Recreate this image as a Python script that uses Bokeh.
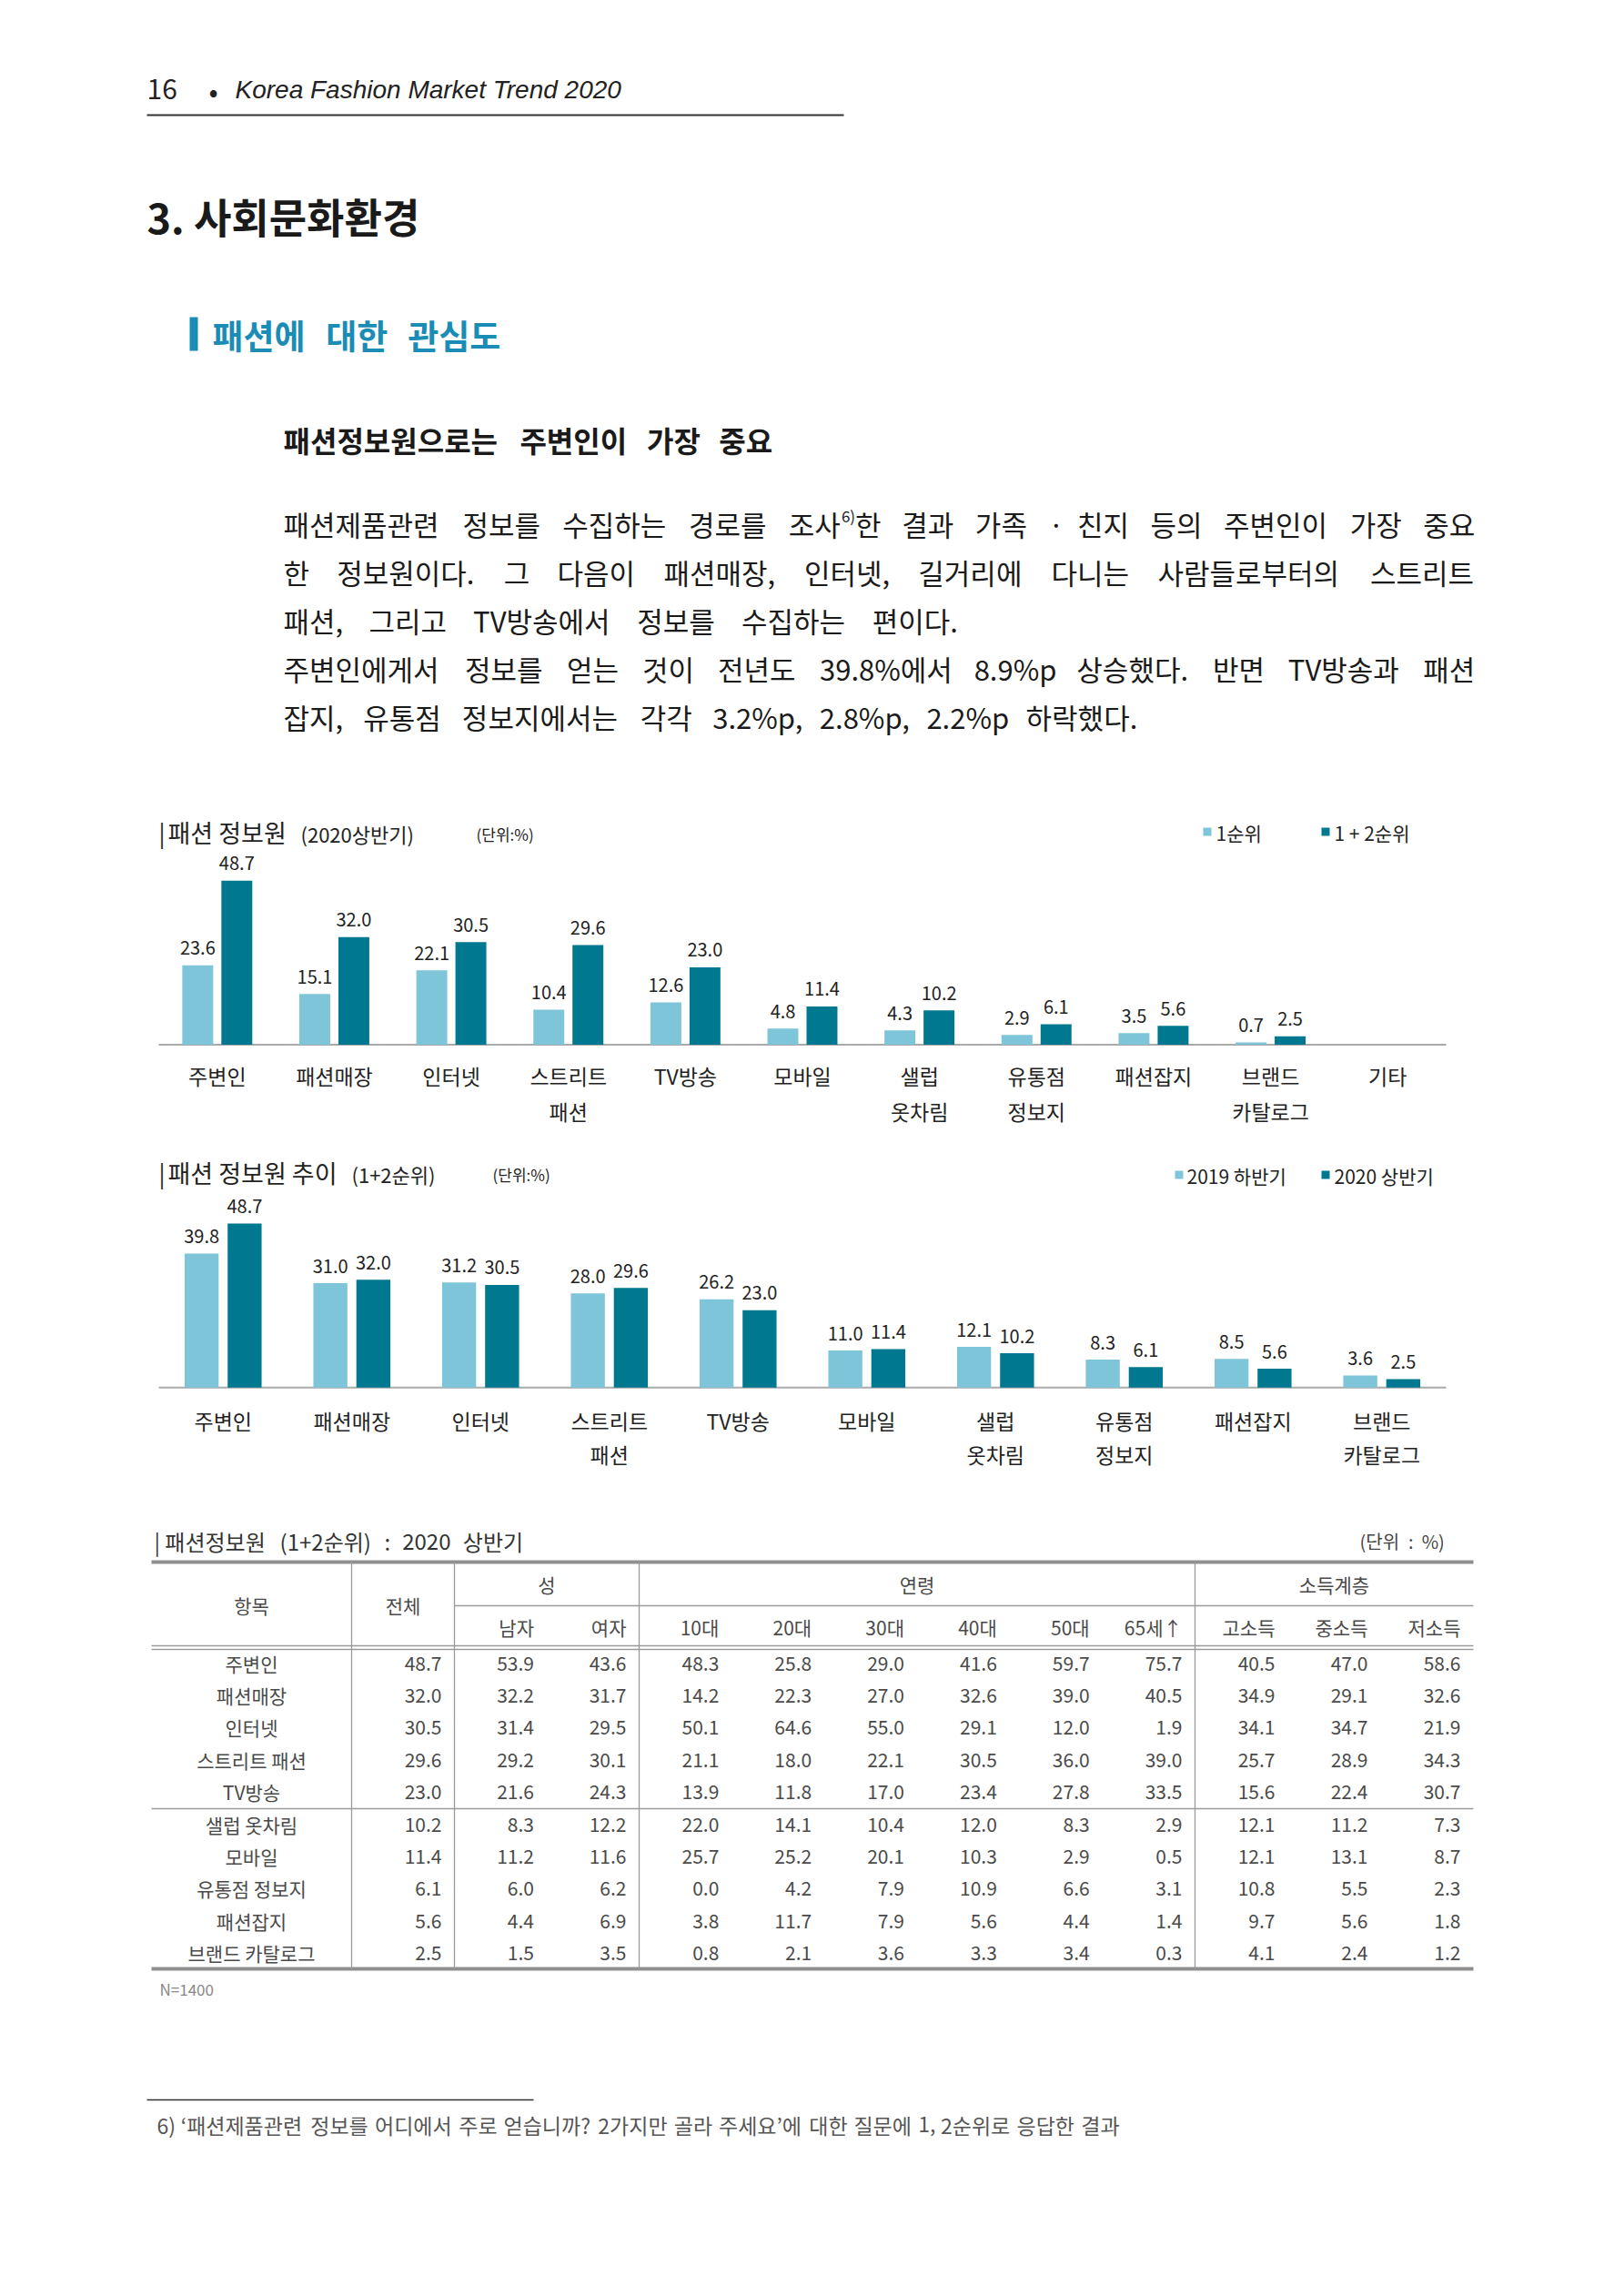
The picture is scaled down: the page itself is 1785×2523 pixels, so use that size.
from bokeh.plotting import figure
from bokeh.models import Range1d
from bokeh.core.properties import value
from bokeh.embed import file_html
from bokeh.resources import INLINE

# ---------------- data ----------------
c1_categories = ["주변인", "패션매장", "인터넷", "스트리트\n패션", "TV방송", "모바일",
                 "샐럽\n옷차림", "유통점\n정보지", "패션잡지", "브랜드\n카탈로그", "기타"]
c1_rank1 = [23.6, 15.1, 22.1, 10.4, 12.6, 4.8, 4.3, 2.9, 3.5, 0.7, None]
c1_rank12 = [48.7, 32.0, 30.5, 29.6, 23.0, 11.4, 10.2, 6.1, 5.6, 2.5, None]

c2_categories = ["주변인", "패션매장", "인터넷", "스트리트\n패션", "TV방송", "모바일",
                 "샐럽\n옷차림", "유통점\n정보지", "패션잡지", "브랜드\n카탈로그"]
c2_h2_2019 = [39.8, 31.0, 31.2, 28.0, 26.2, 11.0, 12.1, 8.3, 8.5, 3.6]
c2_h1_2020 = [48.7, 32.0, 30.5, 29.6, 23.0, 11.4, 10.2, 6.1, 5.6, 2.5]

t_items = ["주변인", "패션매장", "인터넷", "스트리트 패션", "TV방송",
           "샐럽 옷차림", "모바일", "유통점 정보지", "패션잡지", "브랜드 카탈로그"]
t_groups = ["성", "연령", "소득계층"]
t_subheads = ["남자", "여자", "10대", "20대", "30대", "40대", "50대", "65세↑", "고소득", "중소득", "저소득"]
t_total = [48.7, 32.0, 30.5, 29.6, 23.0, 10.2, 11.4, 6.1, 5.6, 2.5]
t_male = [53.9, 32.2, 31.4, 29.2, 21.6, 8.3, 11.2, 6.0, 4.4, 1.5]
t_female = [43.6, 31.7, 29.5, 30.1, 24.3, 12.2, 11.6, 6.2, 6.9, 3.5]
t_10s = [48.3, 14.2, 50.1, 21.1, 13.9, 22.0, 25.7, 0.0, 3.8, 0.8]
t_20s = [25.8, 22.3, 64.6, 18.0, 11.8, 14.1, 25.2, 4.2, 11.7, 2.1]
t_30s = [29.0, 27.0, 55.0, 22.1, 17.0, 10.4, 20.1, 7.9, 7.9, 3.6]
t_40s = [41.6, 32.6, 29.1, 30.5, 23.4, 12.0, 10.3, 10.9, 5.6, 3.3]
t_50s = [59.7, 39.0, 12.0, 36.0, 27.8, 8.3, 2.9, 6.6, 4.4, 3.4]
t_65up = [75.7, 40.5, 1.9, 39.0, 33.5, 2.9, 0.5, 3.1, 1.4, 0.3]
t_high = [40.5, 34.9, 34.1, 25.7, 15.6, 12.1, 12.1, 10.8, 9.7, 4.1]
t_mid = [47.0, 29.1, 34.7, 28.9, 22.4, 11.2, 13.1, 5.5, 5.6, 2.4]
t_low = [58.6, 32.6, 21.9, 34.3, 30.7, 7.3, 8.7, 2.3, 1.8, 1.2]

# ---------------- page setup ----------------
W, H = 1785, 2523
KR = "Noto Sans CJK KR"
LIGHT = "#7ec5d9"
DARK = "#00788f"
BLUE = "#1a8cb5"

p = figure(width=W, height=H, x_range=Range1d(0, W), y_range=Range1d(H, 0),
           output_backend="svg", toolbar_location=None, min_border=0,
           x_axis_location=None, y_axis_location=None)
p.grid.visible = False
p.outline_line_color = None
p.background_fill_color = "white"
p.border_fill_color = "white"


def txt(x, y, s, size, color="#1a1a1a", align="left", baseline="middle",
        style="normal", font=KR, **kw):
    p.text(x=[x], y=[y], text=[s], text_font=value(font),
           text_font_size=f"{size}px", text_color=color, text_align=align,
           text_baseline=baseline, text_font_style=style, **kw)


def char_em(ch):
    o = ord(ch)
    if 0xAC00 <= o <= 0xD7A3 or 0x3130 <= o <= 0x318F:
        return 0.94
    if ch.isdigit():
        return 0.555
    return {".": 0.27, ",": 0.27, "·": 0.3, "%": 0.86, "p": 0.6, "T": 0.55,
            "V": 0.62, "(": 0.33, ")": 0.33, " ": 0.25, "‘": 0.3, "’": 0.3,
            "?": 0.5, "|": 0.25, ":": 0.27, "+": 0.58}.get(ch, 0.55)


def seg_width(s, size):
    return sum(char_em(c) for c in s) * size


def spread_line(words, x0, x1, y, size, color="#1a1a1a", style="normal"):
    """Place words so the line runs from x0 to x1 (justified)."""
    parts = []
    for w in words:
        segs = w if isinstance(w, list) else [(w, size, 0)]
        parts.append(segs)
    widths = [sum(seg_width(t, s) for t, s, _ in segs) for segs in parts]
    gap = (x1 - x0 - sum(widths)) / max(len(parts) - 1, 1)
    x = x0
    for segs, wd in zip(parts, widths):
        for t, s, dy in segs:
            txt(x, y + dy, t, s, color=color, style=style)
            x += seg_width(t, s)
        x += gap


# ---------------- running header ----------------
txt(161, 97, "16", 30, "#222")
txt(234, 98, "•", 30, "#222", align="center")
txt(258, 98, "Korea Fashion Market Trend 2020", 28, "#222", style="italic",
    font="Liberation Sans")
p.segment(x0=[161], y0=[126], x1=[927], y1=[126], line_color="#333", line_width=2)

# ---------------- headings ----------------
txt(161, 237, "3. 사회문화환경", 45, "#1a1a1a", style="bold")
p.quad(left=[208], right=[217], top=[348], bottom=[385], fill_color=BLUE, line_color=None)
spread_line(["패션에", "대한", "관심도"], 233, 552, 367, 37, color=BLUE, style="bold")
spread_line(["패션정보원으로는", "주변인이", "가장", "중요"], 311, 850, 482, 32,
            color="#1a1a1a", style="bold")

# ---------------- body text ----------------
BS = 31
body = [
    (["패션제품관련", "정보를", "수집하는", "경로를",
      [("조사", BS, 0), ("6)", 17, -9), ("한", BS, 0)],
      "결과", "가족", "·", "친지", "등의", "주변인이", "가장", "중요"], 1622, 575),
    (["한", "정보원이다.", "그", "다음이", "패션매장,", "인터넷,", "길거리에", "다니는",
      "사람들로부터의", "스트리트"], 1622, 628),
    (["패션,", "그리고", "TV방송에서", "정보를", "수집하는", "편이다."], 1054, 681),
    (["주변인에게서", "정보를", "얻는", "것이", "전년도", "39.8%에서", "8.9%p", "상승했다.",
      "반면", "TV방송과", "패션"], 1622, 734),
    (["잡지,", "유통점", "정보지에서는", "각각", "3.2%p,", "2.8%p,", "2.2%p", "하락했다."], 1252, 787),
]
for words, right, y in body:
    spread_line(words, 311, right, y, BS)

# ---------------- bar chart helpers ----------------
PPU = 3.702          # pixels per percentage point
PLOT_L, PLOT_R = 174, 1589
BAR_W = 0.264
BAR_OFF = 0.167


def add_bar_chart(name, categories, s_light, s_dark, base_y, label_y1, label_y2):
    n = len(categories)
    step = (PLOT_R - PLOT_L) / n
    xr, yr = name + "x", name + "y"
    p.extra_x_ranges[xr] = Range1d(-PLOT_L / step - 0.5, (W - PLOT_L) / step - 0.5)
    p.extra_y_ranges[yr] = Range1d((base_y - H) / PPU, base_y / PPU)

    # baseline
    p.segment(x0=[-0.5], x1=[n - 0.5], y0=[0], y1=[0], line_color="#aaaaaa",
              line_width=2, x_range_name=xr, y_range_name=yr)

    for series, off, col in ((s_light, -BAR_OFF, LIGHT), (s_dark, BAR_OFF, DARK)):
        xs = [i + off for i, v in enumerate(series) if v is not None]
        vs = [v for v in series if v is not None]
        p.vbar(x=xs, top=vs, bottom=0, width=BAR_W, fill_color=col, line_color=None,
               x_range_name=xr, y_range_name=yr)
        p.text(x=xs, y=vs, text=[f"{v:.1f}" for v in vs], text_font=value(KR),
               text_font_size="20px", text_color="#222", text_align="center",
               text_baseline="alphabetic", y_offset=-19,
               x_range_name=xr, y_range_name=yr)

    first = [c.split("\n")[0] for c in categories]
    second = [(i, c.split("\n")[1]) for i, c in enumerate(categories) if "\n" in c]
    p.text(x=list(range(n)), y=[label_y1] * n, text=first, text_font=value(KR),
           text_font_size="23px", text_color="#222", text_align="center",
           text_baseline="middle", x_range_name=xr)
    p.text(x=[i for i, _ in second], y=[label_y2] * len(second), text=[t for _, t in second],
           text_font=value(KR), text_font_size="23px", text_color="#222",
           text_align="center", text_baseline="middle", x_range_name=xr)


# ---------------- chart 1 ----------------
txt(174, 914, "|", 26, "#222")
txt(184, 914, "패션 정보원", 27, "#222")
txt(330, 915, "(2020상반기)", 22, "#222")
txt(523, 916, "(단위:%)", 17, "#222")
p.quad(left=[1322], right=[1331], top=[909], bottom=[918], fill_color=LIGHT, line_color=None)
txt(1336, 914, "1순위", 21, "#222")
p.quad(left=[1452], right=[1461], top=[909], bottom=[918], fill_color=DARK, line_color=None)
txt(1466, 914, "1 + 2순위", 21, "#222")
add_bar_chart("c1", c1_categories, c1_rank1, c1_rank12, 1147.6, 1181, 1220)

# ---------------- chart 2 ----------------
txt(174, 1288, "|", 26, "#222")
txt(184, 1288, "패션 정보원 추이", 27, "#222")
txt(386, 1289, "(1+2순위)", 22, "#222")
txt(541, 1290, "(단위:%)", 17, "#222")
p.quad(left=[1291], right=[1300], top=[1286], bottom=[1295], fill_color=LIGHT, line_color=None)
txt(1304, 1291, "2019 하반기", 21, "#222")
p.quad(left=[1452], right=[1461], top=[1286], bottom=[1295], fill_color=DARK, line_color=None)
txt(1466, 1291, "2020 상반기", 21, "#222")
add_bar_chart("c2", c2_categories, c2_h2_2019, c2_h1_2020, 1524.3, 1560, 1597)

# ---------------- table ----------------
TC = "#4a4a4a"
LC = "#9a9a9a"
spread_line(["| 패션정보원", "(1+2순위)", ":", "2020", "상반기"], 169, 576, 1693, 24, color="#333")
spread_line(["(단위", ":", "%)"], 1494, 1586, 1693, 20, color="#444")

T_L, T_R = 166, 1619
T_TOP, T_BOT = 1716, 2163
col_item_r, col_total_r = 386, 499
sex_r, age_r = 702, 1313

# column boundaries for the value columns
bounds = [col_item_r, col_total_r]
for a, b, k in ((col_total_r, sex_r, 2), (sex_r, age_r, 6), (age_r, T_R, 3)):
    bounds += [a + (b - a) * j / k for j in range(1, k + 1)]
right_edges = [b - 14 for b in bounds[1:]]

# rules
p.segment(x0=[T_L], x1=[T_R], y0=[T_TOP], y1=[T_TOP], line_color="#8f8f8f", line_width=4)
p.segment(x0=[T_L], x1=[T_R], y0=[T_BOT], y1=[T_BOT], line_color="#8f8f8f", line_width=4)
p.segment(x0=[col_total_r], x1=[T_R], y0=[1764], y1=[1764], line_color=LC, line_width=1.3)
p.segment(x0=[T_L, T_L], x1=[T_R, T_R], y0=[1808, 1812], y1=[1808, 1812],
          line_color=LC, line_width=1.3)
p.segment(x0=[T_L], x1=[T_R], y0=[1987], y1=[1987], line_color=LC, line_width=1.3)
vx = [col_item_r, col_total_r, sex_r, age_r]
p.segment(x0=vx, x1=vx, y0=[T_TOP] * 4, y1=[T_BOT] * 4, line_color=LC, line_width=1.3)

# headers
TS = 21
txt((T_L + col_item_r) / 2, 1763, "항목", TS, TC, align="center")
txt((col_item_r + col_total_r) / 2, 1763, "전체", TS, TC, align="center")
for g, (a, b) in zip(t_groups, ((col_total_r, sex_r), (sex_r, age_r), (age_r, T_R))):
    txt((a + b) / 2, 1740, g, TS, TC, align="center")
for s, r in zip(t_subheads, right_edges[1:]):
    txt(r, 1787, s, TS, TC, align="right")

# body rows
ROW0, ROWH = 1827, 35.4
cols = [t_total, t_male, t_female, t_10s, t_20s, t_30s, t_40s, t_50s, t_65up,
        t_high, t_mid, t_low]
row_y = [ROW0 + ROWH * k for k in range(len(t_items))]
p.text(x=[(T_L + col_item_r) / 2] * len(t_items), y=row_y, text=t_items,
       text_font=value(KR), text_font_size=f"{TS}px", text_color=TC,
       text_align="center", text_baseline="middle")
for col, r in zip(cols, right_edges):
    p.text(x=[r] * len(col), y=row_y, text=[f"{v:.1f}" for v in col],
           text_font=value(KR), text_font_size=f"{TS}px", text_color=TC,
           text_align="right", text_baseline="middle")

txt(175, 2185, "N=1400", 17, "#888")

# ---------------- footnote ----------------
p.segment(x0=[161], x1=[586], y0=[2307], y1=[2307], line_color="#333", line_width=1.5)
spread_line(["6)", "‘패션제품관련", "정보를", "어디에서", "주로", "얻습니까?", "2가지만", "골라",
             "주세요’에", "대한", "질문에", "1,", "2순위로", "응답한", "결과"],
            172, 1231, 2334, 23, color="#555")

open("out.html", "w").write(file_html(p, INLINE))
